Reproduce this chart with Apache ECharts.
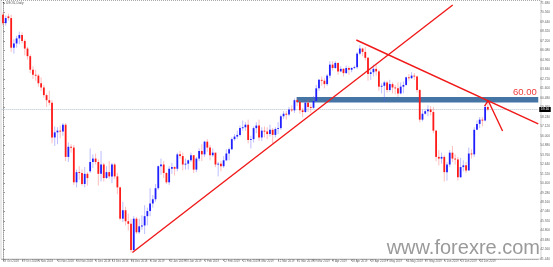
<!DOCTYPE html>
<html><head><meta charset="utf-8">
<script src="https://cdn.jsdelivr.net/npm/echarts@6/dist/echarts.min.js"></script>
<style>html,body{margin:0;padding:0;background:#fff}#c{width:553px;height:267px}</style>
</head><body><div id="c"></div>
<script>
// Trading days (categories)
const dates = [
'2018-10-18','2018-10-19','2018-10-22','2018-10-23','2018-10-24','2018-10-25','2018-10-26','2018-10-29','2018-10-30','2018-10-31',
'2018-11-01','2018-11-02','2018-11-05','2018-11-06','2018-11-07','2018-11-08','2018-11-09','2018-11-12','2018-11-13','2018-11-14','2018-11-15','2018-11-16','2018-11-19','2018-11-20','2018-11-21','2018-11-22','2018-11-23','2018-11-26','2018-11-27','2018-11-28','2018-11-29','2018-11-30',
'2018-12-03','2018-12-04','2018-12-05','2018-12-06','2018-12-07','2018-12-10','2018-12-11','2018-12-12','2018-12-13','2018-12-14','2018-12-17','2018-12-18','2018-12-19','2018-12-20','2018-12-21','2018-12-24','2018-12-26','2018-12-27','2018-12-28','2018-12-31',
'2019-01-02','2019-01-03','2019-01-04','2019-01-07','2019-01-08','2019-01-09','2019-01-10','2019-01-11','2019-01-14','2019-01-15','2019-01-16','2019-01-17','2019-01-18','2019-01-21','2019-01-22','2019-01-23','2019-01-24','2019-01-25','2019-01-28','2019-01-29','2019-01-30','2019-01-31',
'2019-02-01','2019-02-04','2019-02-05','2019-02-06','2019-02-07','2019-02-08','2019-02-11','2019-02-12','2019-02-13','2019-02-14','2019-02-15','2019-02-18','2019-02-19','2019-02-20','2019-02-21','2019-02-22','2019-02-25','2019-02-26','2019-02-27','2019-02-28',
'2019-03-01','2019-03-04','2019-03-05','2019-03-06','2019-03-07','2019-03-08','2019-03-11','2019-03-12','2019-03-13','2019-03-14','2019-03-15','2019-03-18','2019-03-19','2019-03-20','2019-03-21','2019-03-22','2019-03-25','2019-03-26','2019-03-27','2019-03-28','2019-03-29',
'2019-04-01','2019-04-02','2019-04-03','2019-04-04','2019-04-05','2019-04-08','2019-04-09','2019-04-10','2019-04-11','2019-04-12','2019-04-15','2019-04-16','2019-04-17','2019-04-18','2019-04-19','2019-04-22','2019-04-23','2019-04-24','2019-04-25','2019-04-26','2019-04-29','2019-04-30',
'2019-05-01','2019-05-02','2019-05-03','2019-05-06','2019-05-07','2019-05-08','2019-05-09','2019-05-10','2019-05-13','2019-05-14','2019-05-15','2019-05-16','2019-05-17','2019-05-20','2019-05-21','2019-05-22','2019-05-23','2019-05-24','2019-05-27','2019-05-28','2019-05-29','2019-05-30','2019-05-31',
'2019-06-03','2019-06-04','2019-06-05','2019-06-06','2019-06-07','2019-06-10','2019-06-11','2019-06-12','2019-06-13','2019-06-14','2019-06-17','2019-06-18','2019-06-19','2019-06-20','2019-06-21','2019-06-24','2019-06-25','2019-06-26','2019-06-27'
];
// Daily candles: [open, close, low, high]
const ohlc = [
[70.3,69.3,69.0,70.6],[69.3,69.9,69.0,70.2],[70.1,69.9,69.6,70.4],[69.9,66.4,65.9,70.3],[66.4,66.9,65.7,67.4],
[66.9,67.5,66.4,67.8],[67.5,67.9,66.8,68.3],[67.9,67.2,66.9,68.2],[67.2,66.3,65.5,67.4],[66.3,65.4,65.0,66.5],
[65.4,63.8,63.4,65.6],[63.8,63.2,62.7,64.2],[63.2,63.1,62.5,63.8],[63.1,62.2,61.8,63.3],[62.2,61.7,61.3,62.9],
[61.7,60.8,60.5,62.0],[60.8,60.2,59.4,61.0],[60.2,59.9,59.6,61.3],[59.9,55.8,55.1,60.2],[55.8,56.4,54.8,57.1],
[56.4,56.6,55.0,57.0],[56.6,56.5,55.7,57.2],[56.5,57.3,56.0,57.5],[57.3,53.5,53.0,57.5],[53.5,54.7,52.9,55.2],
[54.7,54.6,54.0,55.0],[54.6,50.5,50.2,54.9],[50.5,51.7,49.9,52.0],[51.7,51.6,50.8,52.4],[51.6,50.3,50.1,52.0],
[50.3,51.5,49.9,52.3],[51.5,51.0,50.1,51.7],[51.8,52.9,51.6,54.5],[52.9,53.3,52.2,53.8],[53.3,52.9,52.6,53.9],
[52.9,51.5,50.1,53.2],[51.5,52.6,50.6,54.2],[52.6,51.0,50.6,52.8],[51.0,51.7,50.9,52.4],[51.7,51.2,50.9,53.0],
[51.2,52.6,50.4,52.8],[52.6,51.2,50.9,52.8],[51.2,49.9,49.1,51.6],[49.9,46.2,46.0,50.0],[46.2,47.2,45.8,48.2],
[47.2,45.9,45.4,47.6],[45.9,45.6,44.8,46.8],[45.6,42.5,42.2,46.2],[42.5,46.2,42.3,46.5],[46.2,44.6,44.4,46.4],
[44.6,45.3,44.4,46.2],[45.3,45.4,44.9,46.6],[45.4,46.5,44.4,47.8],[46.5,47.1,45.4,47.5],[47.1,48.0,46.5,49.8],
[48.0,48.5,47.5,49.0],[48.5,49.8,48.2,50.3],[49.8,52.4,49.6,52.5],[52.4,52.6,51.4,53.3],[52.6,51.6,51.0,53.0],
[51.6,50.5,50.3,51.7],[50.5,52.1,50.2,52.4],[52.1,52.3,51.5,52.8],[52.3,52.1,51.3,52.4],[52.1,53.8,51.8,54.0],
[53.8,53.6,53.3,54.2],[53.6,52.6,51.9,54.0],[52.6,52.7,52.0,53.3],[52.7,53.1,52.0,53.2],[53.1,53.7,52.9,54.0],
[53.7,52.0,51.6,53.7],[52.0,53.3,51.7,53.5],[53.3,54.2,53.0,54.5],[54.2,53.8,53.0,55.0],[53.8,55.3,53.5,55.4],
[55.3,54.6,54.1,55.6],[54.6,53.7,53.1,54.9],[53.7,54.0,53.5,54.5],[54.0,52.6,52.3,54.0],[52.6,52.7,51.2,52.9],
[52.7,52.4,51.8,53.0],[52.4,53.1,52.2,53.6],[53.1,53.9,53.0,54.4],[53.9,54.4,53.1,54.6],[54.4,55.6,54.3,55.8],
[55.6,55.9,55.4,56.2],[55.9,56.1,55.6,56.6],[56.1,56.9,55.9,57.2],[56.9,57.0,56.6,57.8],[57.0,57.3,56.6,57.6],
[57.3,55.5,55.1,57.9],[55.5,55.6,54.5,56.0],[55.6,56.9,55.2,57.1],[56.9,57.2,56.3,57.6],[57.2,55.8,55.4,57.9],
[55.8,56.6,55.4,57.0],[56.6,56.5,55.8,57.1],[56.5,56.2,55.6,57.0],[56.2,56.7,55.9,57.3],[56.7,56.1,55.1,56.9],
[56.1,56.8,55.8,57.0],[56.8,56.9,56.2,57.6],[56.9,58.3,56.7,58.5],[58.3,58.6,58.0,58.9],[58.6,58.5,57.9,58.9],
[58.5,59.1,58.3,59.4],[59.1,59.0,58.8,59.6],[59.0,60.2,58.7,60.4],[60.2,60.0,59.5,60.4],[60.0,59.0,58.6,60.2],
[59.0,58.8,58.2,59.3],[58.8,59.9,58.7,60.2],[59.9,59.4,58.8,60.3],[59.4,59.3,58.7,59.7],[59.3,60.1,59.2,60.7],
[60.1,61.6,60.0,62.0],[61.6,62.6,61.3,62.7],[62.6,62.5,61.9,63.0],[62.5,62.1,61.6,62.8],[62.1,63.1,61.9,63.3],
[63.1,64.4,62.8,64.8],[64.4,64.0,63.7,64.8],[64.0,64.6,63.9,64.8],[64.6,63.6,63.2,64.7],[63.6,63.9,63.5,64.2],
[63.9,63.4,63.0,64.0],[63.4,64.0,63.3,64.3],[64.0,63.8,63.2,64.2],[63.8,64.0,63.5,64.1],[64.0,64.1,63.9,64.3],
[64.1,65.7,63.9,65.9],[65.7,66.3,65.5,66.7],[66.3,65.9,65.4,66.4],[65.9,65.2,64.9,66.5],[65.2,63.3,62.5,65.3],
[63.3,63.5,62.6,63.8],[63.5,63.9,63.0,64.4],[63.9,63.6,63.1,64.4],[63.6,61.8,61.3,63.8],[61.8,61.9,61.0,62.2],
[61.9,62.3,60.0,62.5],[62.3,61.4,61.1,62.5],[61.4,62.1,61.2,62.6],[62.1,61.7,61.0,62.3],[61.7,61.6,60.9,62.0],
[61.6,61.0,60.6,62.3],[61.0,61.8,60.9,62.3],[61.8,62.0,61.0,62.4],[62.0,62.9,61.9,63.0],[62.9,62.8,62.5,63.3],
[62.8,63.1,62.7,63.5],[63.1,63.0,62.6,63.4],[63.0,61.4,61.1,63.1],[61.4,57.9,57.6,61.5],[57.9,58.6,57.7,59.1],
[58.6,58.9,58.5,59.1],[58.9,59.1,58.3,59.6],[59.1,58.8,58.4,59.5],[58.8,56.6,56.3,59.4],[56.6,53.5,53.0,56.7],
[53.5,53.3,52.5,54.3],[53.3,53.5,52.7,54.0],[53.5,51.7,50.6,53.7],[51.7,52.6,50.7,52.9],[52.6,54.0,52.3,54.3],
[54.0,53.3,52.9,54.8],[53.3,53.2,52.6,53.8],[53.2,51.1,50.7,53.5],[51.1,52.3,51.0,53.4],[52.3,52.5,51.8,53.1],
[52.5,51.9,51.6,52.9],[51.9,53.9,51.9,54.6],[53.9,53.8,53.3,54.4],[53.8,56.7,53.5,57.0],[56.7,57.4,56.7,57.8],
[57.4,57.9,56.9,58.2],[57.9,57.8,57.1,58.2],[57.8,59.4,57.7,59.6],[59.4,59.1,58.9,60.1]
];
// Time-axis tick labels (dates that carry a label)
const tickDates = ['2018-10-18','2018-10-29','2018-11-06','2018-11-15','2018-11-26','2018-12-05','2018-12-13','2018-12-24',
'2019-01-04','2019-01-15','2019-01-23','2019-02-01','2019-02-12','2019-02-21','2019-03-01','2019-03-12','2019-03-21','2019-03-29',
'2019-04-09','2019-04-18','2019-04-29','2019-05-07','2019-05-16','2019-05-27','2019-06-05','2019-06-13','2019-06-24'];
// Price axis
const priceMin = 41.44, priceMax = 71.68, priceStep = 1.12;
// Drawn objects (in bar-index / price units)
const upTrend = [[47.5, 42.2], [165.1, 71.44]];
const downTrend = [[129.7, 67.31], [196.5, 57.41]];
const arrowLine = [[176.8, 59.51], [178.1, 60.16], [183.4, 56.56]];
const zone = {fromIndex: 107.8, top: 60.58, bottom: 59.93, label: '60.00'};
const bidPrice = 59.1;
const emptyBarsRight = 18;

const cats = dates.slice();
for (let i = 0; i < emptyBarsRight; i++) cats.push('pad' + i);
const N = cats.length;
const tickSet = new Set(tickDates);
const MON = ['Jan','Feb','Mar','Apr','May','Jun','Jul','Aug','Sep','Oct','Nov','Dec'];
const fmtDate = s => { const p = s.split('-'); return (+p[2]) + ' ' + MON[+p[1]-1] + ' ' + p[0]; };
const showTick = (idx, name) => tickSet.has(name);
const candleData = ohlc.map((r, i) => [i, r[0], r[1], r[2], r[3]]);

function renderCandle(params, api) {
  const i = api.value(0), o = api.value(1), c = api.value(2), l = api.value(3), h = api.value(4);
  const pH = api.coord([i, h]), pL = api.coord([i, l]), pO = api.coord([i, o]), pC = api.coord([i, c]);
  const up = c >= o;
  const w = 1.8;
  const top = Math.min(pO[1], pC[1]);
  const ht = Math.max(Math.abs(pO[1] - pC[1]), 0.9);
  return {type: 'group', children: [
    {type: 'line', shape: {x1: pH[0], y1: pH[1], x2: pL[0], y2: pL[1]},
     style: {stroke: up ? 'rgba(90,90,255,0.4)' : 'rgba(255,90,90,0.4)', lineWidth: 1}},
    {type: 'rect', shape: {x: pO[0] - w / 2, y: top, width: w, height: ht},
     style: {fill: up ? '#1f1fff' : '#ff1a1a'}}
  ]};
}

const red = 'rgb(240,25,25)';
const chart = echarts.init(document.getElementById('c'));
chart.setOption({
  animation: false,
  backgroundColor: '#fff',
  grid: {left: 1, right: 12, top: 3, bottom: 8},
  graphic: [
    {type: 'rect', z: 0, silent: true, shape: {x: 1, y: 0.5, width: 540, height: 258.5},
     style: {fill: 'none', stroke: '#aaa', lineWidth: 1, lineDash: [1, 1]}},
    {type: 'text', z: 0, silent: true, style: {text: '▼', x: 2, y: 1.5, font: '3px sans-serif', fill: '#000'}},
    {type: 'text', z: 0, silent: true, style: {text: 'USOIL,Daily', x: 6, y: 1.5, font: '3.2px sans-serif', fill: '#555'}},
    {type: 'text', z: 0, silent: true, style: {text: 'www.forexre.com', x: 540, y: 258, align: 'right', verticalAlign: 'bottom',
      font: '20px "Liberation Sans", Arial, sans-serif', fill: '#9a9a9a'}}
  ],
  xAxis: [
    {type: 'category', data: cats, boundaryGap: true,
     axisLine: {show: true, lineStyle: {color: '#aaa', type: 'dotted'}},
     axisTick: {show: true, interval: showTick, alignWithLabel: true, length: 2, lineStyle: {color: '#999'}},
     axisLabel: {interval: showTick, fontSize: 2.9, color: '#666', margin: 1, align: 'left',
       formatter: v => tickSet.has(v) ? fmtDate(v) : ''},
     splitLine: {show: false}},
    {type: 'value', min: -0.5, max: N - 0.5, show: false}
  ],
  yAxis: {type: 'value', position: 'right', min: priceMin, max: priceMax, interval: priceStep,
    axisLine: {show: true, lineStyle: {color: '#999', type: 'dotted'}},
    axisTick: {show: true, length: 2, lineStyle: {color: '#999'}},
    axisLabel: {fontSize: 3.2, color: '#666', margin: 2, formatter: v => v.toFixed(3)},
    splitLine: {show: false}},
  series: [
    {type: 'custom', name: 'USOIL', xAxisIndex: 0, renderItem: renderCandle, data: candleData,
     encode: {x: 0, y: [1, 2, 3, 4]}, z: 3, clip: true},
    {type: 'line', name: 'up', xAxisIndex: 1, data: upTrend, symbol: 'none', z: 4,
     lineStyle: {color: red, width: 1.4},
     markArea: {silent: true, z: 2, itemStyle: {color: 'rgba(55,106,158,0.93)'},
       data: [[{coord: [zone.fromIndex, zone.top]}, {coord: [N - 0.5, zone.bottom]}]]},
     markLine: {silent: true, symbol: ['none', 'none'], z: 2,
       data: [
         {yAxis: bidPrice, lineStyle: {color: '#b4c0cc', type: 'dotted', width: 1},
          label: {show: true, position: 'end', distance: 1, formatter: bidPrice.toFixed(2),
            backgroundColor: '#000', color: '#fff', fontSize: 3.4, padding: [1, 1.5]}},
         {yAxis: zone.top, lineStyle: {color: 'rgba(0,0,0,0)', width: 0.1},
          label: {show: true, position: 'insideEndTop', distance: [1.5, 0], formatter: zone.label,
            color: 'rgb(240,60,60)', fontSize: 9.5, opacity: 1, fontFamily: 'Liberation Sans, Arial, sans-serif'}}
       ]}},
    {type: 'line', name: 'down', xAxisIndex: 1, data: downTrend, symbol: 'none', z: 4,
     lineStyle: {color: red, width: 1.4}},
    {type: 'line', name: 'arrow', xAxisIndex: 1, data: arrowLine, symbol: 'none', z: 4,
     lineStyle: {color: red, width: 1.4}}
  ]
});
</script></body></html>
